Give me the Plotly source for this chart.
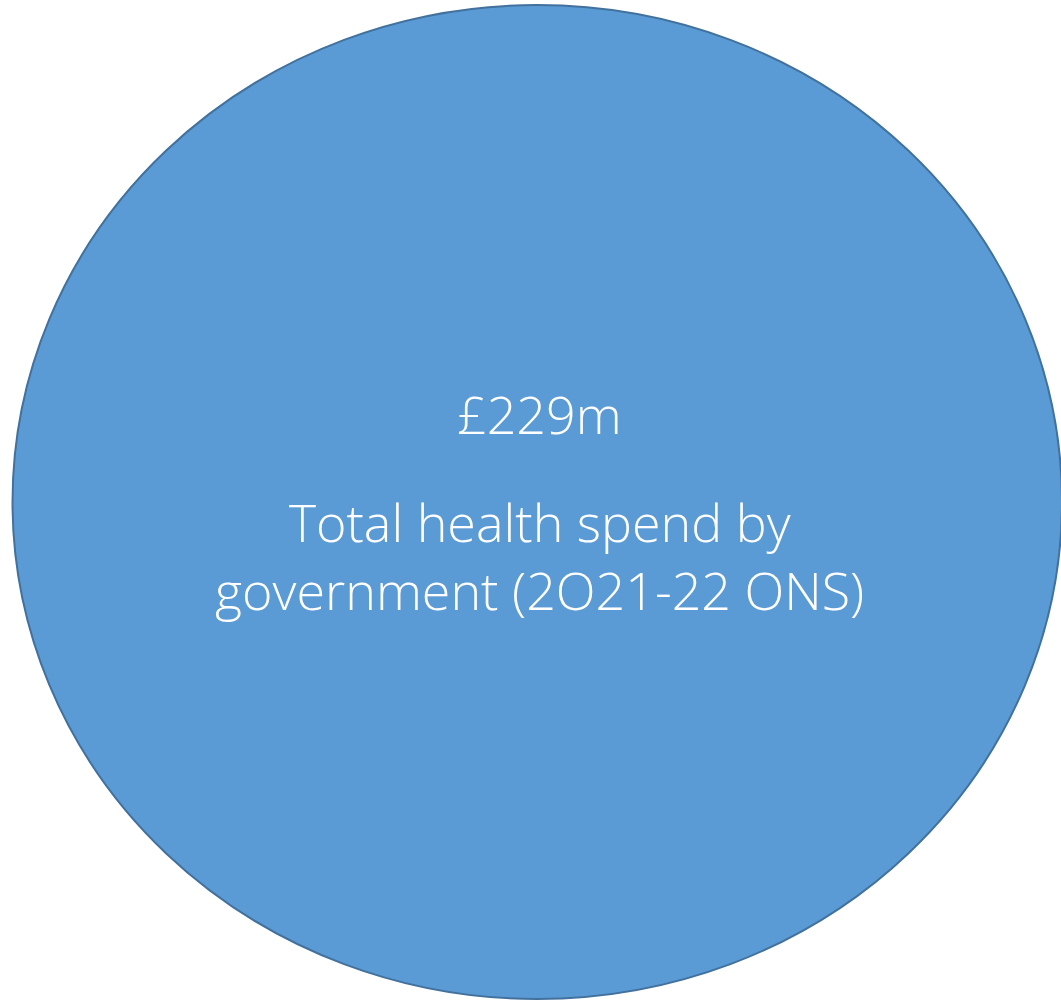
import plotly.graph_objects as go

# Data
value_label = "£229m"
description_lines = ["Total health spend by", "government (2021-22 ONS)"]

W, H = 1061, 1001
fig = go.Figure()
fig.add_trace(go.Scatter(x=[0, W], y=[0, H], mode="markers", marker=dict(opacity=0), hoverinfo="skip", showlegend=False))

fig.add_shape(type="circle", xref="x", yref="y", x0=12.5, x1=1062, y0=5, y1=999,
              fillcolor="#5B9BD5", line=dict(color="#41719C", width=2), layer="below")

font = dict(family="Open Sans", size=52, color="white", weight=300)
fig.add_annotation(x=539, y=413, xref="x", yref="y", text=value_label, showarrow=False,
                   font=font, xanchor="center", yanchor="middle")
fig.add_annotation(x=539, y=555, xref="x", yref="y",
                   text="<br>".join(l.replace("0", "O") for l in description_lines), showarrow=False,
                   font=font, xanchor="center", yanchor="middle", align="center")

fig.update_xaxes(range=[0, W], visible=False)
fig.update_yaxes(range=[H, 0], visible=False)
fig.update_layout(width=W, height=H, margin=dict(l=0, r=0, t=0, b=0),
                  paper_bgcolor="white", plot_bgcolor="white", showlegend=False)
fig.write_html("out.html")
